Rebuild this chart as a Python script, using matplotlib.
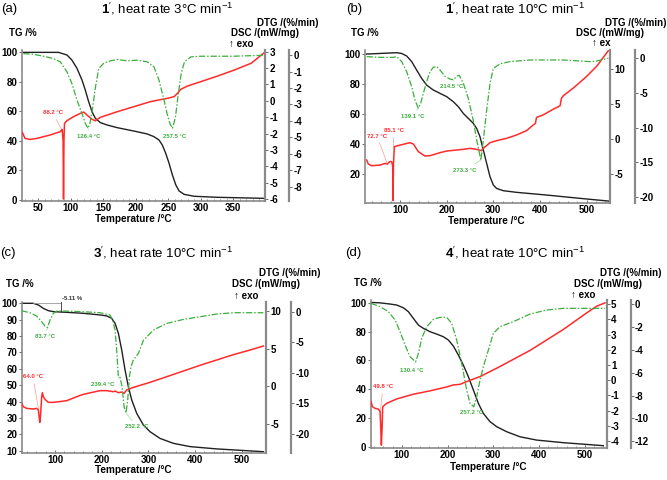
import matplotlib
matplotlib.use('Agg')
import matplotlib.pyplot as plt
from matplotlib.ticker import MultipleLocator, FixedLocator

plt.rcParams['font.family'] = ['Liberation Sans', 'DejaVu Sans']
plt.rcParams['mathtext.fontset'] = 'custom'
plt.rcParams['mathtext.rm'] = 'Liberation Sans'
plt.rcParams['mathtext.bf'] = 'Liberation Sans:bold'
plt.rcParams['mathtext.it'] = 'Liberation Sans:italic'
plt.rcParams['axes.unicode_minus'] = False

W, H = 667, 480
RED = '#ff2a2a'
GREEN = '#3cae3c'
GRAY = '#8a8a8a'

# ---- panel (a): 1', 3 C/min ----
a_tg_t = [27, 81, 94, 101.6, 109.4, 117.1, 122.2, 127.4, 132.6, 137.7, 145.5, 155.8, 171.3, 197, 217.7,
          228, 235.8, 240.9, 246.1, 251.3, 256.4, 261.6, 266.7, 274.5, 290, 326, 398]
a_tg = [100, 100, 98.2, 94.8, 89.2, 81.3, 74.5, 66.6, 59.8, 55.3, 52.4, 50.8, 49.0, 46.7, 44.7,
        42.9, 40.6, 37.2, 31.6, 24.8, 16.9, 10.2, 6.1, 3.8, 2.5, 1.8, 1.1]
a_dsc_t = [25.5, 29.4, 37, 47.4, 68.1, 83.5, 86.6, 88.0, 88.7, 89.4, 90.2, 93.9, 104.2, 114.5, 119.7,
           124.8, 132.6, 137.7, 145.5, 171.3, 197, 222.9, 248.7, 259, 264.1, 269.3, 279.6, 300.3,
           326, 351.9, 377.7, 398.3]
a_dsc = [-1.95, -2.30, -2.36, -2.30, -2.09, -1.89, -1.75, -2.4, -6.0, -2.4, -1.38, -1.22, -0.97, -0.77,
         -0.69, -0.87, -1.13, -1.22, -1.01, -0.67, -0.36, -0.05, 0.15, 0.25, 0.45, 0.70, 0.90, 1.17,
         1.51, 1.88, 2.29, 2.95]
a_dtg_t = [27, 42.3, 57.7, 73.2, 83.5, 93.9, 101.6, 109.4, 117.1, 122.2, 126.4, 129.4, 133, 138, 143,
           151, 161.4, 171.3, 186.8, 202.2, 217.7, 228, 235.8, 243.5, 248.7, 253, 256.5, 261, 265,
           270, 275, 285, 300, 350, 398]
a_dtg = [0.1, 0.06, -0.06, -0.2, -0.4, -1.0, -1.72, -2.73, -3.54, -4.15, -4.45, -4.15, -3.34, -1.92,
         -0.81, -0.47, -0.34, -0.26, -0.34, -0.3, -0.4, -0.71, -1.52, -2.73, -3.64, -4.2, -4.45, -3.8,
         -2.5, -1.1, -0.4, -0.1, -0.06, -0.06, 0.0]

# ---- panel (b): 1', 10 C/min ----
b_tg_t = [28.6, 57.1, 92.9, 103.6, 114.3, 125, 135.7, 146.4, 157.1, 171.4, 185.7, 200, 214.3, 225,
          235.7, 246.4, 257.1, 264.3, 271.4, 278.6, 285.7, 292.9, 300, 307.1, 321.4, 350, 414.3,
          485.7, 546.4]
b_tg = [100, 100.4, 100.9, 100.4, 98.7, 95.0, 89.3, 83.8, 79.3, 76, 73.8, 71.6, 68.2, 64.9, 60.4,
        57.1, 53.8, 50.4, 44.9, 36, 27.1, 18.2, 12.7, 10.4, 8.9, 7.8, 6, 3.8, 2]
b_dsc_t = [28.6, 32.1, 39.3, 57.1, 67.9, 72.9, 78.6, 82.1, 84.3, 85.1, 86.0, 87.9, 92.9, 107.1, 121.4,
           128.6, 139.3, 153.6, 164.3, 185.7, 200, 221.4, 235.7, 250, 264.3, 275, 278.6, 292.9,
           307.1, 328.6, 350, 371.4, 385.7, 390, 392.5, 407.1, 428.6, 443, 446, 450, 471.4, 500,
           521.4, 546.4]
b_dsc = [-2.95, -3.52, -3.76, -3.67, -3.43, -3.52, -3.14, -3.2, -3.8, -8.7, -3.5, -1.05, -0.95, -0.71,
         -0.48, -0.67, -1.76, -2.38, -2.33, -1.9, -1.67, -1.52, -1.43, -1.29, -1.43, -1.62, -1.29,
         -0.48, -0.19, 0.14, 0.62, 1.24, 2.05, 2.25, 3.1, 3.48, 4.29, 4.76, 5.86, 6.19, 7.29, 8.95,
         10.38, 12.6]
b_dtg_t = [28.6, 57.1, 85.7, 92.9, 103.6, 114.3, 125, 132.1, 139.1, 144.3, 150, 157.1, 164.3, 171.4,
           178.6, 185.7, 196.4, 207.1, 214.5, 221.4, 227.1, 235.7, 246.4, 257.1, 264.3, 273.3, 278.6,
           285.7, 292.9, 300, 314.3, 335.7, 378.6, 450, 507, 521, 546.4]
b_dtg = [0.24, 0.14, 0.14, 0.24, -0.48, -1.93, -4.1, -6.02, -7.2, -6.5, -5.06, -3.37, -1.93, -1.3,
         -1.2, -1.69, -2.6, -3.0, -3.1, -2.6, -2.45, -3.6, -5.8, -9.0, -11.8, -14.7, -11.8, -7.5, -3.6,
         -1.45, -0.8, -0.48, -0.24, -0.24, -0.48, -0.4, 0.0]

# ---- panel (c): 3', 10 C/min ----
c_tg_t = [28.6, 53.6, 64.3, 75, 85.7, 96.4, 125, 160.7, 196.4, 210.7, 221.4, 228.6, 235.7, 242.9,
          250, 257.1, 264.3, 275, 289.3, 303.6, 325, 353.6, 389.3, 446.4, 546.4]
c_tg = [100, 100, 99, 96.9, 95.5, 94.9, 94.5, 93.9, 92.9, 92.3, 90.8, 87.8, 81.7, 71.5, 59.3, 49.1,
        41, 32.8, 25.7, 21.6, 17.5, 14.5, 12.5, 11.1, 9.4]
c_dsc_t = [28.6, 32.1, 39.3, 53.6, 60.7, 64.3, 66, 67.5, 69.3, 71.4, 72.9, 75, 78.6, 85.7, 96.4, 125,
           146.4, 160.7, 196.4, 210.7, 225, 228.6, 235.7, 242.9, 247.9, 253.6, 267.9, 303.6, 339.3,
           375, 410.7, 446.4, 482.1, 517.9, 546.4]
c_dsc = [-2.31, -2.76, -2.98, -3.07, -2.98, -3.2, -4.2, -4.85, -3.6, -1.42, -0.89, -1.42, -1.78,
         -2.18, -2.18, -1.96, -1.42, -1.11, -0.62, -0.62, -0.76, -0.67, -0.89, -0.8, -0.98, -0.53,
         -0.18, 0.49, 1.24, 2.0, 2.76, 3.47, 4.18, 4.8, 5.33]
c_dtg_t = [28.6, 46.4, 60.7, 71.4, 78.6, 83.7, 89.3, 96.4, 103.6, 125, 160.7, 196.4, 217.9, 223.6,
           228.6, 232.1, 235.7, 239.4, 243.6, 247.9, 252.2, 255.7, 259.3, 262.9, 267.9, 278.6, 289.3,
           310.7, 339.3, 375, 410.7, 446.4, 482.1, 546.4]
c_dtg = [0.16, -0.16, -0.71, -1.64, -2.36, -2.6, -1.37, -0.27, 0.11, 0.11, 0, -0.16, -0.55, -1.37,
         -3.0, -6.3, -10.7, -10.8, -12.3, -15.6, -16.6, -14.5, -10.7, -9.0, -7.9, -6.85, -4.7, -3.01,
         -1.92, -1.26, -0.82, -0.38, -0.16, -0.16]

# ---- panel (d): 4', 10 C/min ----
d_tg_t = [34.5, 52.7, 74.5, 89.1, 103.6, 114.5, 125.5, 136.4, 147.3, 161.8, 176.4, 190.9, 201.8,
          212.7, 223.6, 234.5, 245.5, 256.4, 267.3, 278.2, 292.7, 307.3, 329.1, 358.2, 394.5, 452.7, 540]
d_tg = [100.2, 99.9, 99.1, 98.4, 96.5, 93.8, 89.1, 84.5, 82.2, 79.9, 78.2, 76.4, 74.1, 69.9, 63.7,
        56.7, 48.6, 39.4, 30.1, 23.1, 17.4, 13.9, 10.4, 6.9, 4.6, 2.8, 0.7]
d_dsc_t = [33.1, 36, 41.8, 49.1, 52.7, 54.2, 55.6, 57.1, 58.5, 67.3, 89.1, 125.5, 161.8, 198.2, 212.7,
           227.3, 241.8, 270.9, 307.3, 380, 452.7, 503.6, 525.5, 543.6]
d_dsc = [-1.41, -1.74, -1.85, -1.9, -2.07, -3.06, -4.27, -3.2, -1.74, -1.52, -1.23, -0.92, -0.7,
         -0.44, -0.31, -0.27, -0.09, 0.24, 0.79, 1.96, 3.34, 4.43, 4.87, 5.09]
d_dtg_t = [33.1, 52.7, 70.9, 85.5, 96.4, 107.3, 118.2, 130.4, 136.4, 143.6, 154.5, 169.1, 183.6, 198.2,
           209.1, 220, 230.9, 241.8, 249.1, 257.2, 263.6, 270.9, 278.2, 289.1, 300, 314.5, 343.6, 380,
           416.4, 452.7, 543.6]
d_dtg = [0.09, -0.2, -0.64, -1.37, -2.4, -3.57, -4.6, -5.04, -4.3, -2.99, -1.96, -1.32, -1.14, -1.14,
         -1.67, -3.13, -5.18, -7.52, -8.69, -8.98, -8.1, -6.64, -5.47, -4.01, -2.55, -1.96, -1.52,
         -0.85, -0.5, -0.35, -0.35]

fig = plt.figure(figsize=(W / 100, H / 100), dpi=100)


def fx(x):
    return x / W


def fy(y):
    return 1 - y / H


def panel(box, xlim, xmaj, xmin, tglim, tgticks, dsclim, dscticks, dtglim, dtgticks, gap, curves):
    l, t, r, b = box
    ax = fig.add_axes([fx(l), fy(b), (r - l) / W, (b - t) / H])
    ax2 = ax.twinx()
    ax3 = ax.twinx()
    tg_t, tg, dsc_t, dsc, dtg_t, dtg = curves
    ax.plot(tg_t, tg, color='#202020', lw=1.0)
    ax2.plot(dsc_t, dsc, color=RED, lw=1.1)
    ax3.plot(dtg_t, dtg, color=GREEN, lw=0.9, ls=(0, (5, 1.5, 1.2, 1.5)))
    ax.set_xlim(*xlim)
    ax.set_ylim(*tglim)
    ax2.set_ylim(*dsclim)
    ax3.set_ylim(*dtglim)
    ax.xaxis.set_major_locator(MultipleLocator(xmaj))
    ax.xaxis.set_minor_locator(MultipleLocator(xmin))
    ax.yaxis.set_major_locator(FixedLocator(tgticks))
    ax2.yaxis.set_major_locator(FixedLocator(dscticks))
    ax3.yaxis.set_major_locator(FixedLocator(dtgticks))
    for a in (ax, ax2, ax3):
        for s in a.spines.values():
            s.set_visible(False)
        a.patch.set_visible(False)
    ax.spines['left'].set_visible(True)
    ax.spines['bottom'].set_visible(True)
    ax2.spines['right'].set_visible(True)
    ax3.spines['right'].set_visible(True)
    ax3.spines['right'].set_position(('axes', 1 + gap / (r - l)))
    for s in (ax.spines['left'], ax.spines['bottom']):
        s.set_color(GRAY)
        s.set_linewidth(1.2)
    for s in (ax2.spines['right'], ax3.spines['right']):
        s.set_color(GRAY)
        s.set_linewidth(1.6)
    for a in (ax, ax2, ax3):
        a.tick_params(axis='both', which='major', labelsize=7, length=2, width=0.6,
                      pad=1.2, color='#555555')
        a.tick_params(axis='x', which='minor', length=1.3, width=0.5, color='#555555')
        for lab in a.get_xticklabels() + a.get_yticklabels():
            lab.set_fontweight('bold')
    ax.tick_params(axis='x', which='both', direction='in')
    return ax, ax2, ax3


def note(a, text, xy, pos, color):
    a.annotate(text, xy=xy, xycoords='data', xytext=(pos[0], H - pos[1]),
               textcoords='figure pixels', fontsize=4.3, fontweight='bold', color=color,
               ha='center', va='center',
               arrowprops=dict(arrowstyle='-', color=color, lw=0.4, alpha=0.6, shrinkA=1, shrinkB=0))


def headers(tag, title, tagxy, titlexy, tgxy, dtgxy, dscxy, exoxy, tempxy, exo='\u2191 exo'):
    fig.text(fx(tagxy[0]), fy(tagxy[1]), tag, fontsize=9.5, ha='center', va='center')
    fig.text(fx(titlexy[0]), fy(titlexy[1]), title, fontsize=9.5, ha='center', va='center')
    fig.text(fx(tgxy[0]), fy(tgxy[1]), 'TG /%', fontsize=7, fontweight='bold', ha='center', va='center')
    fig.text(fx(dtgxy[0]), fy(dtgxy[1]), 'DTG /(%/min)', fontsize=7, fontweight='bold',
             ha='center', va='center')
    fig.text(fx(dscxy[0]), fy(dscxy[1]), 'DSC /(mW/mg)', fontsize=7, fontweight='bold',
             ha='center', va='center')
    fig.text(fx(exoxy[0]), fy(exoxy[1]), exo, fontsize=7, fontweight='bold', ha='center', va='center')
    fig.text(fx(tempxy[0]), fy(tempxy[1]), 'Temperature /\u00b0C', fontsize=7.2, fontweight='bold',
             ha='center', va='center')


# (a)
ax, ax2, ax3 = panel((21.7, 50, 265, 201), (24.3, 399), 50, 10, (-0.7, 101.6), [0, 20, 40, 60, 80, 100],
                     (-6.12, 3.1), list(range(-6, 4)), (-8.88, 0.32), list(range(-8, 1)), 24,
                     (a_tg_t, a_tg, a_dsc_t, a_dsc, a_dtg_t, a_dtg))
headers('(a)', r'$\mathbf{1}^{\prime}$, heat rate 3°C min$^{-1}$', (9, 9), (167, 9),
        (22.5, 33.3), (288, 22.7), (265, 33.3), (241, 44), (133, 219))
note(ax2, '88.2 °C', (87, -1.85), (53, 113), RED)
note(ax3, '126.4 °C', (126.4, -4.45), (89, 137), GREEN)
note(ax3, '257.5 °C', (256.5, -4.45), (175, 136), GREEN)

# (b)
ax, ax2, ax3 = panel((365, 50, 610, 203), (25, 550), 100, 20, (0.7, 102.7), [20, 40, 60, 80, 100],
                     (-9.06, 12.7), [-5, 0, 5, 10], (-20.9, 1.2), [-20, -15, -10, -5, 0], 25,
                     (b_tg_t, b_tg, b_dsc_t, b_dsc, b_dtg_t, b_dtg))
headers('(b)', r'$\mathbf{1}^{\prime}$, heat rate 10°C min$^{-1}$', (354, 9), (515, 9),
        (365, 33.3), (636, 22.7), (610.5, 33.3), (601.5, 43.3), (486.7, 220.7), exo='\u2191 ex')
note(ax2, '72.7 °C', (72.9, -3.5), (377, 136), RED)
note(ax2, '85.1 °C', (85.6, -1.2), (394, 131), RED)
note(ax3, '139.1 °C', (139.1, -7.2), (413, 117), GREEN)
note(ax3, '214.5 °C', (214.5, -3.1), (452, 86), GREEN)
note(ax3, '273.3 °C', (273.3, -14.7), (465, 170), GREEN)

# (c)
ax, ax2, ax3 = panel((21.7, 302, 266, 453), (28.6, 552), 100, 20, (8.6, 100.8), list(range(10, 101, 10)),
                     (-8.93, 11.2), [-5, 0, 5, 10], (-23.2, 1.6), [-20, -15, -10, -5, 0], 25,
                     (c_tg_t, c_tg, c_dsc_t, c_dsc, c_dtg_t, c_dtg))
headers('(c)', r'$\mathbf{3}^{\prime}$, heat rate 10°C min$^{-1}$', (8.3, 253), (163, 253),
        (20, 284.3), (290, 273.3), (265.8, 284.3), (245.8, 296), (133.3, 470))
ax.plot([53.6, 112.9], [100, 100], color='#999999', lw=0.6)
ax.plot([112.9, 112.9], [102, 94.9], color='#333333', lw=0.6)
fig.text(fx(72), fy(299), '-5.11 %', fontsize=4.3, fontweight='bold', color='#333333',
         ha='center', va='center')
note(ax3, '83.7 °C', (83.7, -2.6), (45, 337), GREEN)
note(ax2, '64.0 °C', (66, -3.6), (33, 377), RED)
note(ax3, '239.4 °C', (239.4, -10.8), (103, 384), GREEN)
note(ax3, '252.2 °C', (252.2, -16.6), (137, 427), GREEN)

# (d)
ax, ax2, ax3 = panel((370.7, 300, 606.5, 448), (32.3, 547), 100, 20, (-0.9, 101.9), [0, 20, 40, 60, 80, 100],
                     (-4.46, 5.28), list(range(-4, 6)), (-12.6, 0.38), list(range(-12, 1, 2)), 24,
                     (d_tg_t, d_tg, d_dsc_t, d_dsc, d_dtg_t, d_dtg))
headers('(d)', r'$\mathbf{4}^{\prime}$, heat rate 10°C min$^{-1}$', (353.3, 253), (515, 253),
        (367.5, 283.3), (631, 273.3), (607.5, 284.3), (583.3, 295), (488.3, 466.7))
note(ax3, '130.4 °C', (130.4, -5.04), (412, 370), GREEN)
note(ax3, '257.2 °C', (257.2, -8.98), (472, 413), GREEN)
note(ax2, '49.8 °C', (53, -2.1), (383, 387), RED)

fig.savefig('out.png', dpi=100)
